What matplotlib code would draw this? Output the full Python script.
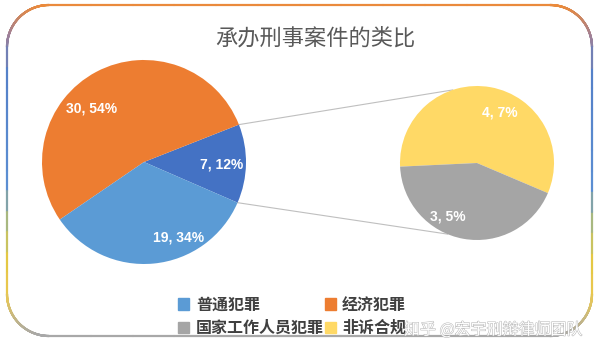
import numpy as np
import matplotlib
matplotlib.use("Agg")
import matplotlib.pyplot as plt
import matplotlib.patheffects as pe
from matplotlib.collections import LineCollection
from matplotlib.colors import LinearSegmentedColormap
from matplotlib.patches import Patch

plt.rcParams['font.family'] = ['Noto Sans CJK SC', 'DejaVu Sans']

title = '承办刑事案件的类比'
# main pie: split-off part, 经济犯罪, 普通犯罪
main_values = [7, 30, 19]
main_colors = ['#4472C4', '#ED7D31', '#5B9BD5']
# secondary pie: 非诉合规, 国家工作人员犯罪
sub_values = [4, 3]
sub_colors = ['#FFD966', '#A5A5A5']
legend_names = ['普通犯罪', '国家工作人员犯罪', '经济犯罪', '非诉合规']
legend_colors = ['#5B9BD5', '#A5A5A5', '#ED7D31', '#FFD966']
watermark = '知乎 @宏宇刑辩律师团队'

total = sum(main_values)

fig = plt.figure(figsize=(6, 3.44), dpi=100)
ax = fig.add_axes([0, 0, 1, 1])

# rounded border with vertical colour gradient
x0, x1, yb, yt, rr = 7, 592, 8, 339, 42
pts = []
for cx, cy, a0 in [(x1 - rr, yt - rr, 0), (x0 + rr, yt - rr, 90),
                   (x0 + rr, yb + rr, 180), (x1 - rr, yb + rr, 270)]:
    a = np.radians(np.linspace(a0, a0 + 90, 30))
    pts += list(zip(cx + rr * np.cos(a), cy + rr * np.sin(a)))
pts.append(pts[0])
pts = np.array(pts)
dense = []
for p, q in zip(pts[:-1], pts[1:]):
    for t in np.linspace(0, 1, 12, endpoint=False):
        dense.append(p + (q - p) * t)
dense.append(pts[-1])
dense = np.array(dense)
segs = np.stack([dense[:-1], dense[1:]], axis=1)
cmap = LinearSegmentedColormap.from_list('border', [
    (0.0, '#EA8A3C'), (0.09, '#A08098'), (0.2, '#5580C8'), (0.53, '#5B8ED2'),
    (0.68, '#B8C070'), (0.8, '#EDC93C'), (0.9, '#E2C560'), (1.0, '#A8A8A8')])
tvals = (yt - segs[:, :, 1].mean(axis=1)) / (yt - yb)
lc = LineCollection(segs, colors=cmap(tvals), linewidths=1.6, capstyle='round')
ax.add_collection(lc)

main_c, main_r = (144, 182), 102
sub_c, sub_r = (477, 181), 77

w_main, _ = ax.pie(main_values, colors=main_colors, startangle=-23.5,
                   center=main_c, radius=main_r, wedgeprops=dict(linewidth=0))
w_sub, _ = ax.pie(sub_values, colors=sub_colors, startangle=-23,
                  center=sub_c, radius=sub_r, wedgeprops=dict(linewidth=0))


def lab(v):
    return f'{v}, {round(v / total * 100)}%'


def place(c, r, ang, frac, txt):
    a = np.radians(ang)
    ax.text(c[0] + frac * r * np.cos(a), c[1] + frac * r * np.sin(a), txt,
            ha='center', va='center', color='white', fontsize=10,
            fontweight='bold', family=['Liberation Sans', 'DejaVu Sans'])


for v, (ang, fr) in zip(main_values, [(-1.5, 0.765), (134, 0.735), (-65.6, 0.81)]):
    place(main_c, main_r, ang, fr, lab(v))
for v, (ang, fr) in zip(sub_values, [(65.3, 0.715), (241.3, 0.785)]):
    place(sub_c, sub_r, ang, fr, lab(v))

# connector lines
th1, th2 = np.radians(w_main[0].theta1), np.radians(w_main[0].theta2)
for tm, ts in [(th2, np.radians(108.4)), (th1, np.radians(247.4))]:
    ax.plot([main_c[0] + main_r * np.cos(tm), sub_c[0] + sub_r * np.cos(ts)],
            [main_c[1] + main_r * np.sin(tm), sub_c[1] + sub_r * np.sin(ts)],
            color='#BFBFBF', lw=0.8, zorder=0)

ax.set_xlim(0, 600)
ax.set_ylim(0, 344)
ax.set_aspect('auto')
ax.axis('off')

ax.text(315, 306, title, ha='center', va='center', fontsize=16, color='#595959')

handles = [Patch(color=c, label=n) for c, n in zip(legend_colors, legend_names)]
leg = fig.legend(handles=handles, ncol=2, loc='center', bbox_to_anchor=(0.487, 0.081),
                 frameon=False, handlelength=0.7, handleheight=0.7, handletextpad=0.4,
                 columnspacing=0.05, labelspacing=0.45,
                 prop=dict(size=11.5, weight='bold', family=['Noto Sans CJK SC']))
for t in leg.get_texts():
    t.set_color('#404040')

ax.text(404, 14, watermark, ha='left', va='center', fontsize=11.5, color='white',
        path_effects=[pe.withStroke(linewidth=0.7, foreground='#B5B5B5')])

fig.savefig('out.png', dpi=100)
